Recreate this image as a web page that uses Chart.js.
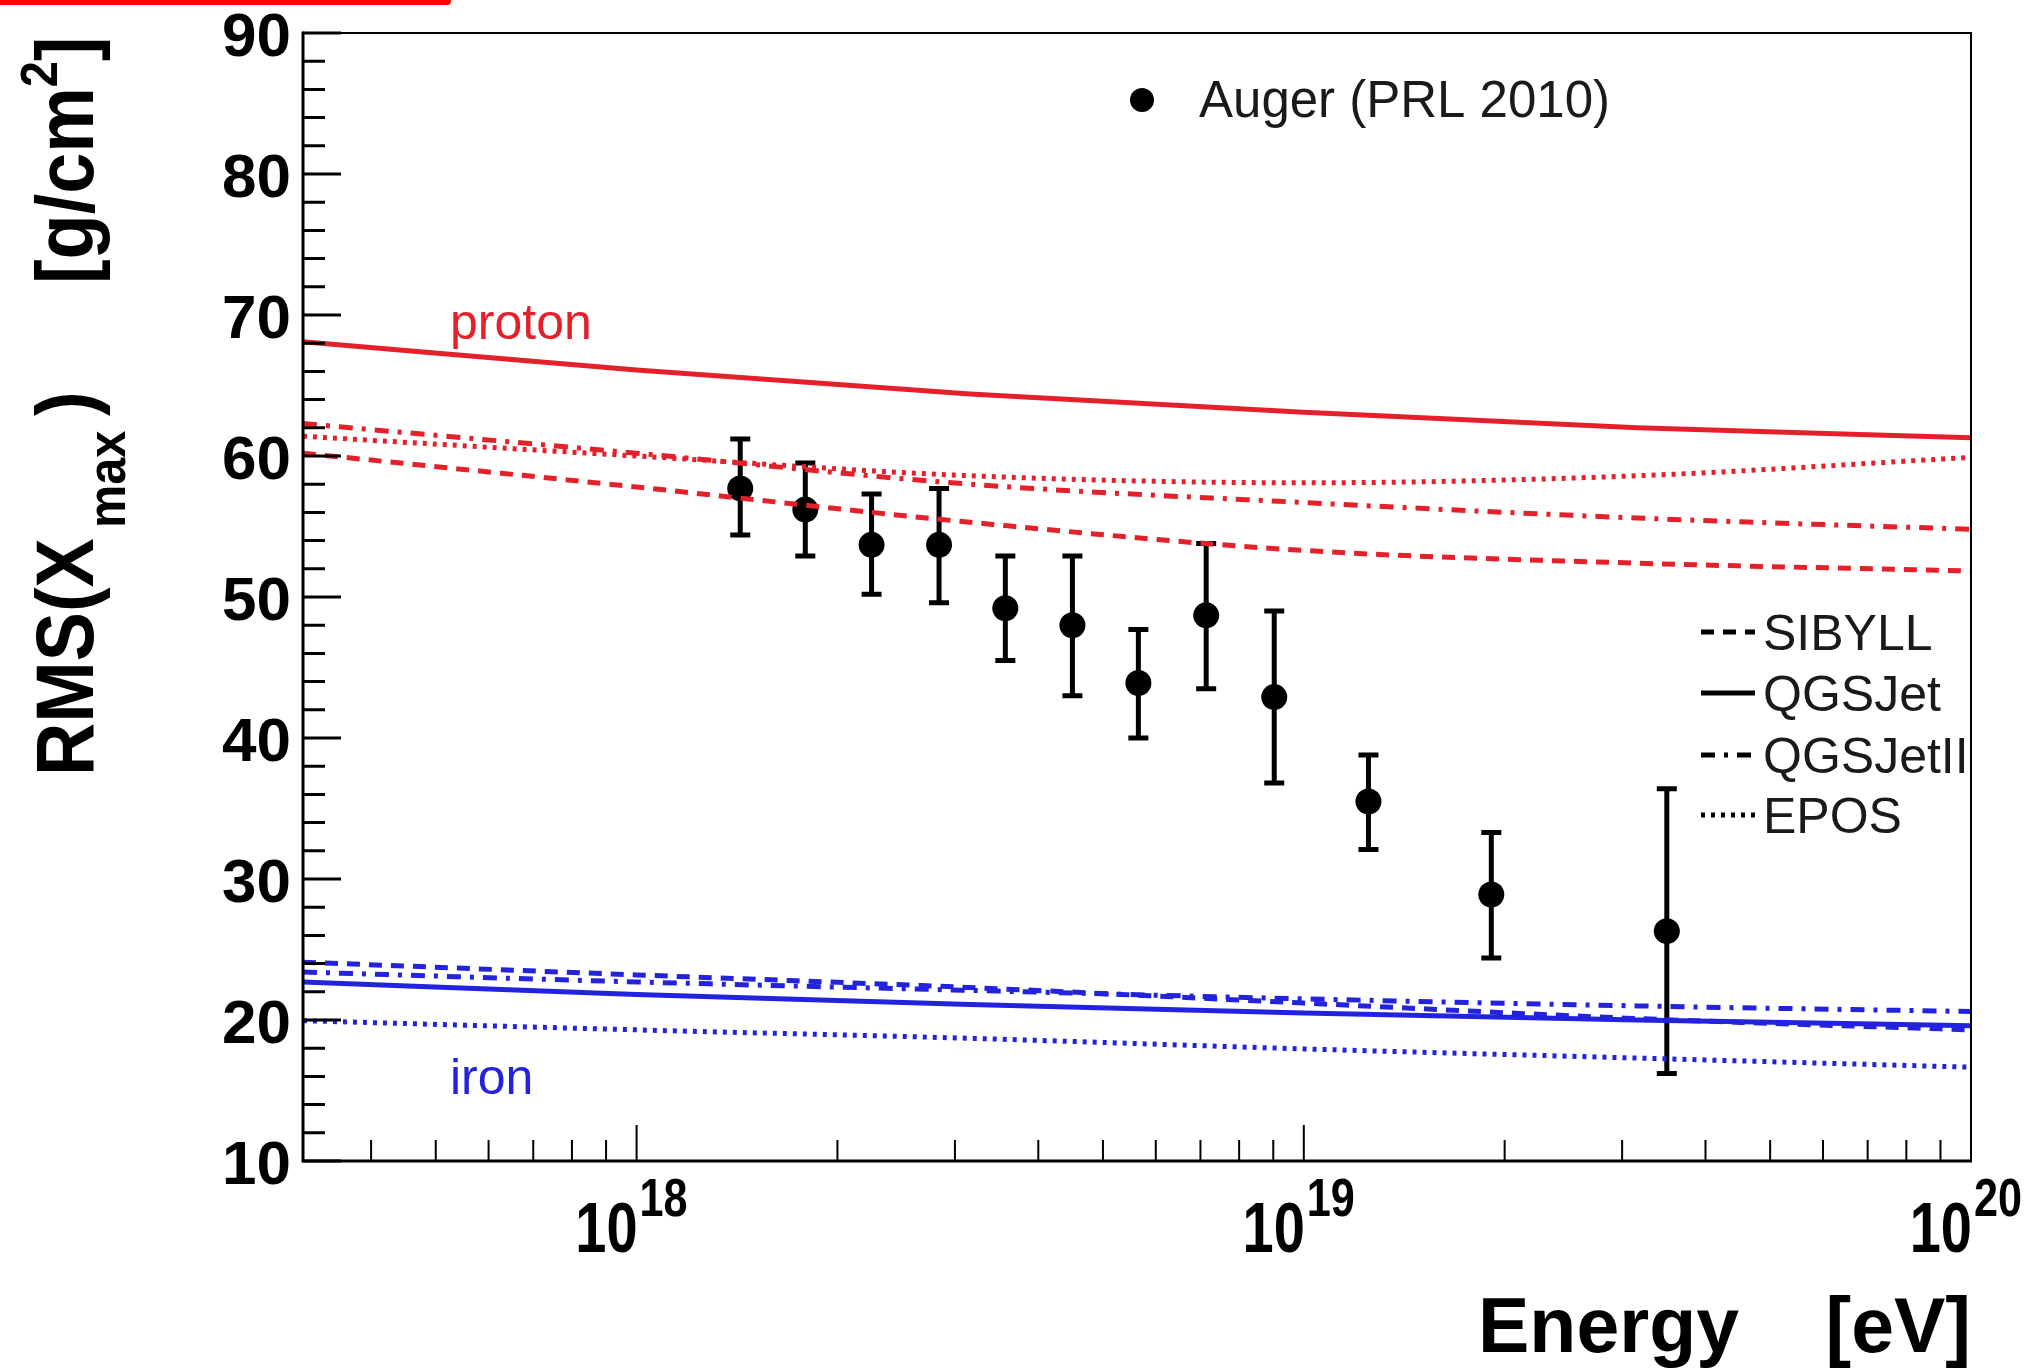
<!DOCTYPE html>
<html><head><meta charset="utf-8">
<script src="https://cdn.jsdelivr.net/npm/chart.js@4/dist/chart.umd.min.js"></script>
<style>
html,body{margin:0;padding:0;background:#fff;}
#wrap{position:relative;width:2039px;height:1368px;background:#fff;}
#bar{position:absolute;left:0;top:0;width:451px;height:5px;background:#ff0000;border-bottom-right-radius:4px;}
</style>
</head><body>
<div id="wrap"><canvas id="c" width="2039" height="1368"></canvas><div id="bar"></div></div>
<script>
// ---- data ----
const energyGrid = [3.162e17, 1e18, 3.162e18, 1e19, 3.162e19, 1e20];
const protonSIBYLL   = [60.2, 57.8, 55.3, 53.3, 52.4, 51.85];
const protonQGSJet   = [68.1, 66.1, 64.4, 63.1, 62.0, 61.3];
const protonQGSJetII = [62.3, 60.2, 58.0, 56.7, 55.6, 54.8];
const protonEPOS     = [61.4, 60.0, 58.6, 58.1, 58.6, 59.9];
const ironSIBYLL     = [24.1, 23.2, 22.3, 21.2, 20.1, 19.3];
const ironQGSJet     = [22.7, 21.8, 21.1, 20.5, 20.0, 19.6];
const ironQGSJetII   = [23.4, 22.7, 22.1, 21.5, 21.0, 20.6];
const ironEPOS       = [19.95, 19.3, 18.7, 17.95, 17.3, 16.65];

const augerE    = [1.43e18, 1.79e18, 2.25e18, 2.84e18, 3.57e18, 4.50e18, 5.65e18, 7.14e18, 9.03e18, 1.25e19, 1.91e19, 3.50e19];
const augerRMS  = [57.7, 56.2, 53.7, 53.7, 49.2, 48.0, 43.9, 48.7, 42.9, 35.5, 28.9, 26.3];
const augerLow  = [54.4, 52.9, 50.2, 49.6, 45.5, 43.0, 40.0, 43.5, 36.8, 32.1, 24.4, 16.2];
const augerHigh = [61.2, 59.5, 57.3, 57.7, 52.9, 52.9, 47.7, 53.8, 49.0, 38.8, 33.3, 36.4];

const modelNames = ['SIBYLL', 'QGSJet', 'QGSJetII', 'EPOS'];
const yTickValues = [10, 20, 30, 40, 50, 60, 70, 80, 90];
const yMinorValues = [12,14,16,18,22,24,26,28,32,34,36,38,42,44,46,48,52,54,56,58,62,64,66,68,72,74,76,78,82,84,86,88];
const xDecades = [1e18, 1e19, 1e20];
const xDecadeExp = ['18', '19', '20'];
const xMinorValues = [4e17,5e17,6e17,7e17,8e17,9e17,2e18,3e18,4e18,5e18,6e18,7e18,8e18,9e18,2e19,3e19,4e19,5e19,6e19,7e19,8e19,9e19];

// ---- styles ----
const RED = '#e4202a', BLUE = '#2323dd';
const dashes = { SIBYLL: [13, 9], QGSJet: [], QGSJetII: [14, 9, 4, 9], EPOS: [4, 6] };
const FONT = '"Liberation Sans", Arial, Helvetica, sans-serif';

function pts(arr) { return energyGrid.map((e, i) => ({ x: e, y: arr[i] })); }
function lineDs(label, arr, color, model) {
  return { label, data: pts(arr), showLine: true, borderColor: color, borderWidth: 5,
    borderDash: dashes[model], pointRadius: 0, fill: false, cubicInterpolationMode: 'monotone' };
}

function txt(ctx, s, x, y, size, weight, color, align, sx) {
  ctx.save();
  ctx.translate(x, y);
  ctx.scale(sx || 1, 1);
  ctx.font = weight + ' ' + size + 'px ' + FONT;
  ctx.fillStyle = color;
  ctx.textAlign = align || 'left';
  ctx.textBaseline = 'alphabetic';
  ctx.fillText(s, 0, 0);
  ctx.restore();
}

const deco = {
  id: 'deco',
  beforeDatasetsDraw(chart) {
    const ctx = chart.ctx, xs = chart.scales.x, ys = chart.scales.y;
    ctx.save();
    ctx.strokeStyle = '#000';
    ctx.lineWidth = 5;
    for (let i = 0; i < augerE.length; i++) {
      const px = xs.getPixelForValue(augerE[i]);
      const y1 = ys.getPixelForValue(augerLow[i]);
      const y2 = ys.getPixelForValue(augerHigh[i]);
      ctx.beginPath();
      ctx.moveTo(px, y1); ctx.lineTo(px, y2);
      ctx.moveTo(px - 10, y1); ctx.lineTo(px + 10, y1);
      ctx.moveTo(px - 10, y2); ctx.lineTo(px + 10, y2);
      ctx.stroke();
    }
    ctx.restore();
  },
  afterDatasetsDraw(chart) {
    const ctx = chart.ctx, xs = chart.scales.x, ys = chart.scales.y, a = chart.chartArea;
    ctx.save();
    // frame
    ctx.strokeStyle = '#000';
    ctx.lineWidth = 2;
    ctx.beginPath();
    ctx.moveTo(a.left, a.top); ctx.lineTo(a.right, a.top); ctx.lineTo(a.right, a.bottom);
    ctx.stroke();
    ctx.lineWidth = 3;
    ctx.beginPath();
    ctx.moveTo(a.left, a.top - 1.5); ctx.lineTo(a.left, a.bottom); ctx.lineTo(a.right + 1, a.bottom);
    ctx.stroke();
    // y ticks
    ctx.lineWidth = 3;
    ctx.beginPath();
    yTickValues.forEach(v => { const py = ys.getPixelForValue(v); ctx.moveTo(a.left, py); ctx.lineTo(a.left + 38, py); });
    yMinorValues.forEach(v => { const py = ys.getPixelForValue(v); ctx.moveTo(a.left, py); ctx.lineTo(a.left + 22, py); });
    ctx.stroke();
    // x ticks
    ctx.lineWidth = 2;
    ctx.beginPath();
    xDecades.forEach(v => { const px = xs.getPixelForValue(v); ctx.moveTo(px, a.bottom); ctx.lineTo(px, a.bottom - 36); });
    xMinorValues.forEach(v => { const px = xs.getPixelForValue(v); ctx.moveTo(px, a.bottom); ctx.lineTo(px, a.bottom - 21); });
    ctx.stroke();
    // y tick labels
    yTickValues.forEach(v => { const py = ys.getPixelForValue(v); txt(ctx, String(v), a.left - 12, py + 23, 62, 'bold', '#000', 'right', 1); });
    // x tick labels 10^n
    xDecades.forEach((v, i) => {
      const px = xs.getPixelForValue(v);
      txt(ctx, '10', px + 1, 1252, 70, 'bold', '#000', 'right', 0.8);
      txt(ctx, xDecadeExp[i], px + 3, 1216, 54, 'bold', '#000', 'left', 0.8);
    });
    // x title
    txt(ctx, 'Energy', 1478, 1352, 77, 'bold', '#000', 'left', 1);
    txt(ctx, '[eV]', a.right, 1352, 77, 'bold', '#000', 'right', 1);
    // y title (rotated)
    ctx.save();
    ctx.translate(93, 776);
    ctx.rotate(-Math.PI / 2);
    ctx.scale(0.9, 1);
    ctx.fillStyle = '#000';
    ctx.textBaseline = 'alphabetic';
    ctx.textAlign = 'left';
    ctx.font = 'bold 82px ' + FONT;
    ctx.fillText('RMS(X', 0, 0);
    ctx.font = 'bold 54px ' + FONT;
    ctx.fillText('max', 248 / 0.9, 32);
    ctx.font = 'bold 82px ' + FONT;
    ctx.fillText(')', 360 / 0.9, 0);
    let sx0 = 492 / 0.9;
    ctx.fillText('[g/cm', sx0, 0);
    sx0 += ctx.measureText('[g/cm').width;
    ctx.font = 'bold 52px ' + FONT;
    ctx.fillText('2', sx0, -36);
    sx0 += ctx.measureText('2').width;
    ctx.font = 'bold 82px ' + FONT;
    ctx.fillText(']', sx0, 0);
    ctx.restore();
    // curve labels
    txt(ctx, 'proton', 450, 339, 50, 'normal', RED, 'left', 1);
    txt(ctx, 'iron', 450, 1094, 50, 'normal', BLUE, 'left', 1);
    // data legend
    ctx.fillStyle = '#000';
    ctx.beginPath(); ctx.arc(1142, 100, 12, 0, Math.PI * 2); ctx.fill();
    txt(ctx, 'Auger (PRL 2010)', 1199, 117, 51, 'normal', '#1a1a1a', 'left', 1);
    // model legend
    const rowY = [632, 693, 755, 815];
    modelNames.forEach((m, i) => {
      ctx.save();
      ctx.strokeStyle = '#000';
      ctx.lineWidth = 5;
      ctx.setLineDash(dashes[m]);
      ctx.beginPath(); ctx.moveTo(1701, rowY[i]); ctx.lineTo(1755, rowY[i]); ctx.stroke();
      ctx.restore();
      txt(ctx, m, 1763, rowY[i] + 18, 50, 'normal', '#1a1a1a', 'left', 1);
    });
    ctx.restore();
  }
};

new Chart(document.getElementById('c'), {
  type: 'scatter',
  data: {
    datasets: [
      lineDs('proton SIBYLL', protonSIBYLL, RED, 'SIBYLL'),
      lineDs('proton QGSJet', protonQGSJet, RED, 'QGSJet'),
      lineDs('proton QGSJetII', protonQGSJetII, RED, 'QGSJetII'),
      lineDs('proton EPOS', protonEPOS, RED, 'EPOS'),
      lineDs('iron SIBYLL', ironSIBYLL, BLUE, 'SIBYLL'),
      lineDs('iron QGSJet', ironQGSJet, BLUE, 'QGSJet'),
      lineDs('iron QGSJetII', ironQGSJetII, BLUE, 'QGSJetII'),
      lineDs('iron EPOS', ironEPOS, BLUE, 'EPOS'),
      { label: 'Auger (PRL 2010)', data: augerE.map((e, i) => ({ x: e, y: augerRMS[i] })),
        pointRadius: 13, pointBackgroundColor: '#000', pointBorderWidth: 0, showLine: false }
    ]
  },
  options: {
    responsive: false,
    devicePixelRatio: 1,
    animation: false,
    layout: { padding: { left: 303, right: 68, top: 33, bottom: 207 } },
    scales: {
      x: { type: 'logarithmic', min: 3.1623e17, max: 1e20, display: false },
      y: { type: 'linear', min: 10, max: 90, display: false }
    },
    plugins: { legend: { display: false }, tooltip: { enabled: false } }
  },
  plugins: [deco]
});
</script>
</body></html>
